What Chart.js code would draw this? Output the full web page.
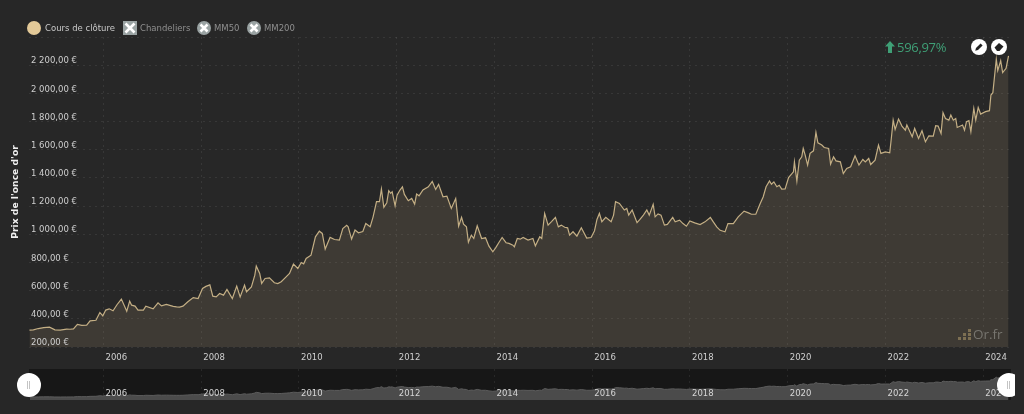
<!DOCTYPE html>
<html lang="fr">
<head>
<meta charset="utf-8">
<title>Cours de l'once d'or</title>
<script src="https://cdn.jsdelivr.net/npm/chart.js@4"></script>
<style>
  html, body { margin: 0; padding: 0; background: #272727; }
  #stage { position: relative; width: 1024px; height: 414px; overflow: hidden; background: #272727;
           font-family: "DejaVu Sans", sans-serif; }
  #main { position: absolute; left: 0; top: 0; }
  #navWrap { position: absolute; left: 29px; top: 369px; width: 982px; height: 31px; background: #171717; }
  #nav { position: absolute; left: 0; top: 0; }
  .leg { position: absolute; top: 22px; font-size: 8.5px; line-height: 12px; color: #8f8f8f; white-space: nowrap; }
  .sym { position: absolute; }
  #gain { position: absolute; left: 897px; top: 38px; color: #3f9f76; font: 13px/18px "Open Sans", sans-serif; letter-spacing: -.3px; white-space: nowrap; }
  #brand { position: absolute; left: 973px; top: 325px; color: #77756f; font: 13.5px/18px "Open Sans", sans-serif; }
  #handles { position: absolute; left: 0; top: 0; width: 1015px; height: 414px; overflow: hidden; pointer-events: none; }
  .handle { position: absolute; top: 373px; width: 24px; height: 24px; border-radius: 50%; background: #fff; }
  .handle::after { content: ""; position: absolute; left: 10px; top: 8px; width: 1px; height: 8px; border-left: 1px solid #c4c4c4; border-right: 1px solid #c4c4c4; }
</style>
</head>
<body>
<div id="stage">
  <canvas id="main" width="1024" height="414"></canvas>

  <svg class="sym" style="left:27px;top:21px" width="14" height="14"><circle cx="7" cy="7" r="7" fill="#e3c998"/></svg>
  <div class="leg" style="left:45px;color:#c8c8c8">Cours de clôture</div>
  <svg class="sym" style="left:123px;top:21px" width="14" height="14"><rect width="14" height="14" fill="#9aa3a3"/><path d="M2.5 2.5L11.5 11.5M11.5 2.5L2.5 11.5" stroke="#fff" stroke-width="2.6"/></svg>
  <div class="leg" style="left:140px">Chandeliers</div>
  <svg class="sym" style="left:197px;top:21px" width="14" height="14"><circle cx="7" cy="7" r="7" fill="#9aa3a3"/><path d="M3.5 3.5L10.5 10.5M10.5 3.5L3.5 10.5" stroke="#fff" stroke-width="2.6"/></svg>
  <div class="leg" style="left:214px">MM50</div>
  <svg class="sym" style="left:247px;top:21px" width="14" height="14"><circle cx="7" cy="7" r="7" fill="#9aa3a3"/><path d="M3.5 3.5L10.5 10.5M10.5 3.5L3.5 10.5" stroke="#fff" stroke-width="2.6"/></svg>
  <div class="leg" style="left:264px">MM200</div>

  <div id="navWrap"><canvas id="nav" width="982" height="31"></canvas></div>

  <svg class="sym" style="left:885px;top:41px" width="10" height="12"><path d="M5 0L10 5.5H7V12H3V5.5H0Z" fill="#3f9f76"/></svg>
  <div id="gain">596,97%</div>

  <svg class="sym" style="left:971px;top:39px" width="16" height="16"><circle cx="8" cy="8" r="8" fill="#fff"/><path d="M4.2 11.8L5 9L9.6 4.4L11.6 6.4L7 11Z" fill="#222"/></svg>
  <svg class="sym" style="left:991px;top:39px" width="16" height="16"><circle cx="8" cy="8" r="8" fill="#fff"/><path d="M3.5 8.5L8 4L12.5 7.5L8.5 12H6Z" fill="#222"/></svg>

  <svg class="sym" style="left:958px;top:329px" width="13" height="11" fill="#7d6f52">
    <rect x="0" y="8" width="3" height="3"/><rect x="5" y="8" width="3" height="3"/><rect x="10" y="8" width="3" height="3"/>
    <rect x="5" y="4" width="3" height="3"/><rect x="10" y="4" width="3" height="3"/><rect x="10" y="0" width="3" height="3"/>
  </svg>
  <div id="brand">Or.fr</div>

  <div id="handles">
    <div class="handle" style="left:17px"></div>
    <div class="handle" style="left:997px"></div>
  </div>
</div>

<script>
// Closing price of one troy ounce of gold in euros, by decimal year.
const dates = [
  2004.49,2004.57,2004.67,2004.78,2004.90,2005.01,2005.12,2005.25,2005.32,2005.39,2005.47,2005.56,2005.66,2005.73,2005.85,2005.93,2005.99,
  2006.05,2006.12,2006.20,2006.28,2006.37,2006.48,2006.54,2006.58,2006.65,2006.71,2006.82,2006.87,2007.02,2007.12,2007.19,2007.29,2007.36,2007.43,2007.50,
  2007.56,2007.63,2007.73,2007.84,2007.94,2008.03,2008.10,2008.18,2008.24,2008.31,2008.38,2008.46,2008.53,2008.64,2008.73,2008.80,2008.89,2008.93,
  2009.03,2009.10,2009.13,2009.20,2009.24,2009.31,2009.40,2009.50,2009.57,2009.64,2009.74,2009.81,2009.89,2009.98,2010.05,2010.10,2010.15,2010.25,2010.34,
  2010.42,2010.48,2010.54,2010.64,2010.73,2010.83,2010.90,2010.98,2011.01,2011.08,2011.15,2011.22,2011.31,2011.37,2011.46,2011.52,
  2011.59,2011.65,2011.69,2011.74,2011.80,2011.84,2011.88,2011.91,2011.97,2012.01,2012.07,2012.12,2012.16,2012.24,2012.31,2012.37,
  2012.41,2012.46,2012.54,2012.65,2012.73,2012.80,2012.86,2012.95,2013.03,2013.12,2013.21,2013.27,2013.33,2013.37,2013.43,2013.47,
  2013.53,2013.58,2013.65,2013.74,2013.82,2013.89,2013.97,2014.03,2014.10,2014.16,2014.24,2014.30,2014.38,2014.41,2014.47,2014.53,2014.59,2014.69,2014.79,2014.84,
  2014.93,2014.97,2015.03,2015.10,2015.17,2015.25,2015.31,2015.37,2015.44,2015.50,2015.54,2015.61,2015.69,2015.78,2015.89,2015.98,2016.05,2016.10,
  2016.15,2016.20,2016.28,2016.39,2016.44,2016.48,2016.56,2016.66,2016.71,2016.75,2016.82,2016.92,2016.98,2017.05,2017.12,2017.17,2017.25,
  2017.29,2017.35,2017.41,2017.48,2017.54,2017.65,2017.70,2017.79,2017.86,2017.93,2018.00,2018.10,2018.21,2018.31,2018.42,2018.48,2018.55,
  2018.62,2018.72,2018.78,2018.89,2018.99,2019.11,2019.20,2019.26,2019.35,2019.44,2019.50,2019.56,2019.63,2019.67,2019.72,2019.78,
  2019.83,2019.88,2019.95,2020.02,2020.12,2020.14,2020.19,2020.24,2020.29,2020.32,2020.36,2020.41,2020.46,2020.53,2020.58,2020.62,
  2020.70,2020.75,2020.84,2020.88,2020.94,2020.99,2021.08,2021.14,2021.21,2021.29,2021.38,2021.46,2021.54,2021.59,2021.66,2021.70,
  2021.79,2021.86,2021.91,2022.00,2022.09,2022.12,2022.16,2022.20,2022.27,2022.34,2022.41,2022.44,2022.55,2022.60,2022.68,2022.75,
  2022.82,2022.89,2022.98,2023.03,2023.08,2023.14,2023.18,2023.23,2023.30,2023.34,2023.39,2023.44,2023.47,2023.58,2023.62,2023.66,
  2023.71,2023.75,2023.81,2023.85,2023.90,2023.95,2024.05,2024.13,2024.16,2024.20,2024.27,2024.30,2024.36,2024.40,2024.47,2024.52
];
const prices = [
  320,322,331,338,341,322,320,327,326,329,360,353,355,386,390,445,421,
  462,471,457,500,540,454,525,497,490,462,462,490,471,514,492,502,495,488,485,
  483,490,521,551,544,615,630,641,561,556,580,568,608,544,632,556,639,592,
  627,710,774,722,651,686,691,656,650,663,698,722,788,757,800,790,828,852,982,
  1022,1006,895,978,963,959,1041,1063,1053,966,1030,1011,1020,1077,1053,1124,
  1231,1231,1321,1191,1224,1309,1290,1302,1202,1278,1314,1337,1283,1238,1254,1214,
  1285,1273,1314,1337,1375,1318,1354,1266,1271,1183,1254,1058,1120,1072,1053,944,
  994,970,1060,970,975,916,876,905,945,977,940,935,923,911,970,965,977,959,970,918,
  982,970,1148,1065,1090,1120,1053,1065,1050,1046,994,1018,987,1046,973,977,1025,1105,
  1148,1089,1120,1089,1136,1231,1219,1172,1183,1136,1172,1082,1105,1136,1172,1136,1212,
  1124,1145,1136,1065,1070,1120,1089,1100,1076,1057,1095,1081,1069,1088,1119,1088,1052,
  1028,1017,1076,1076,1123,1164,1152,1142,1142,1218,1265,1337,1379,1355,1372,1337,
  1348,1320,1322,1403,1443,1514,1377,1526,1550,1609,1562,1491,1574,1592,1723,1649,
  1633,1616,1609,1498,1550,1521,1514,1431,1467,1479,1557,1491,1531,1514,1538,1495,
  1526,1633,1574,1585,1578,1673,1810,1744,1818,1768,1739,1775,1692,1751,1680,1735,
  1656,1699,1697,1770,1768,1716,1863,1822,1810,1846,1810,1822,1758,1775,1739,1799,
  1806,1728,1893,1810,1900,1853,1870,1877,1988,2005,2242,2161,2232,2147,2178,2266
];
const yearTicks = [2006,2008,2010,2012,2014,2016,2018,2020,2022,2024];
const priceTicks = [200,400,600,800,1000,1200,1400,1600,1800,2000,2200,2400];
const firstYear = 2004.48;
const lastYear = 2024.53;

const points = dates.map((x, i) => ({ x, y: prices[i] }));
const gridColor = 'rgba(255,255,255,0.075)';
const uiFont = '"DejaVu Sans", sans-serif';

// French money format with a space for thousands: 2 200,00 €
function euro(v) {
  const whole = Math.floor(v / 1000);
  const rest = String(v % 1000).padStart(whole ? 3 : 1, '0');
  return (whole ? whole + ' ' + rest : rest) + ',00 €';
}

function setTicks(values) {
  return scale => { scale.ticks = values.map(value => ({ value })); };
}

new Chart(document.getElementById('main'), {
  type: 'line',
  data: { datasets: [{
    data: points,
    borderColor: '#c4af85',
    borderWidth: 1.2,
    backgroundColor: 'rgba(227,201,152,0.12)',
    fill: 'start',
    pointRadius: 0,
    tension: 0
  }] },
  options: {
    responsive: false,
    animation: false,
    events: [],
    layout: { padding: { left: 0, right: 15, top: 37, bottom: 42 } },
    plugins: { legend: { display: false }, tooltip: { enabled: false } },
    scales: {
      x: {
        type: 'linear',
        min: firstYear,
        max: lastYear,
        afterBuildTicks: setTicks(yearTicks),
        afterFit: s => { s.height = 25; },
        grid: { color: gridColor, tickLength: 0, drawTicks: false },
        border: { display: false, dash: [2, 4] },
        ticks: {
          autoSkip: false, maxRotation: 0, labelOffset: 13, padding: 6,
          color: '#cfcfcf', font: { family: uiFont, size: 8.5 },
          callback: v => String(v)
        }
      },
      y: {
        min: 200,
        max: 2400,
        afterBuildTicks: setTicks(priceTicks),
        afterFit: s => { s.width = 29; },
        grid: { color: gridColor, drawTicks: false },
        border: { display: false, dash: [2, 4] },
        title: {
          display: true, text: "Prix de l'once d'or", color: '#f0f0f0',
          font: { family: uiFont, size: 9.2, weight: 'bold' },
          padding: { top: 10, bottom: 0 }
        },
        ticks: {
          mirror: true, padding: 2, labelOffset: -4, z: 2,
          color: '#cfcfcf', font: { family: uiFont, size: 8.5 },
          callback: v => v === 2400 ? '' : euro(v)
        }
      }
    }
  }
});

// Overview strip under the main plot, with the full history at small scale.
new Chart(document.getElementById('nav'), {
  type: 'line',
  data: { datasets: [{
    data: points,
    borderColor: '#5c5c5c',
    borderWidth: 1,
    backgroundColor: '#4b4b4b',
    fill: 'start',
    pointRadius: 0,
    tension: 0
  }] },
  options: {
    responsive: false,
    animation: false,
    events: [],
    plugins: { legend: { display: false }, tooltip: { enabled: false } },
    layout: { padding: { right: 2 } },
    scales: {
      x: {
        type: 'linear',
        min: firstYear,
        max: lastYear,
        afterBuildTicks: setTicks(yearTicks),
        afterFit: s => { s.height = 0; },
        grid: { color: gridColor, drawTicks: false },
        border: { display: false, dash: [2, 4] },
        ticks: {
          autoSkip: false, maxRotation: 0, mirror: true, padding: 1, labelOffset: 13, z: 2,
          color: '#d6d6d6', font: { family: uiFont, size: 8.5 },
          callback: v => String(v)
        }
      },
      y: { display: false, min: 30, max: 3040 }
    }
  }
});
</script>
</body>
</html>
